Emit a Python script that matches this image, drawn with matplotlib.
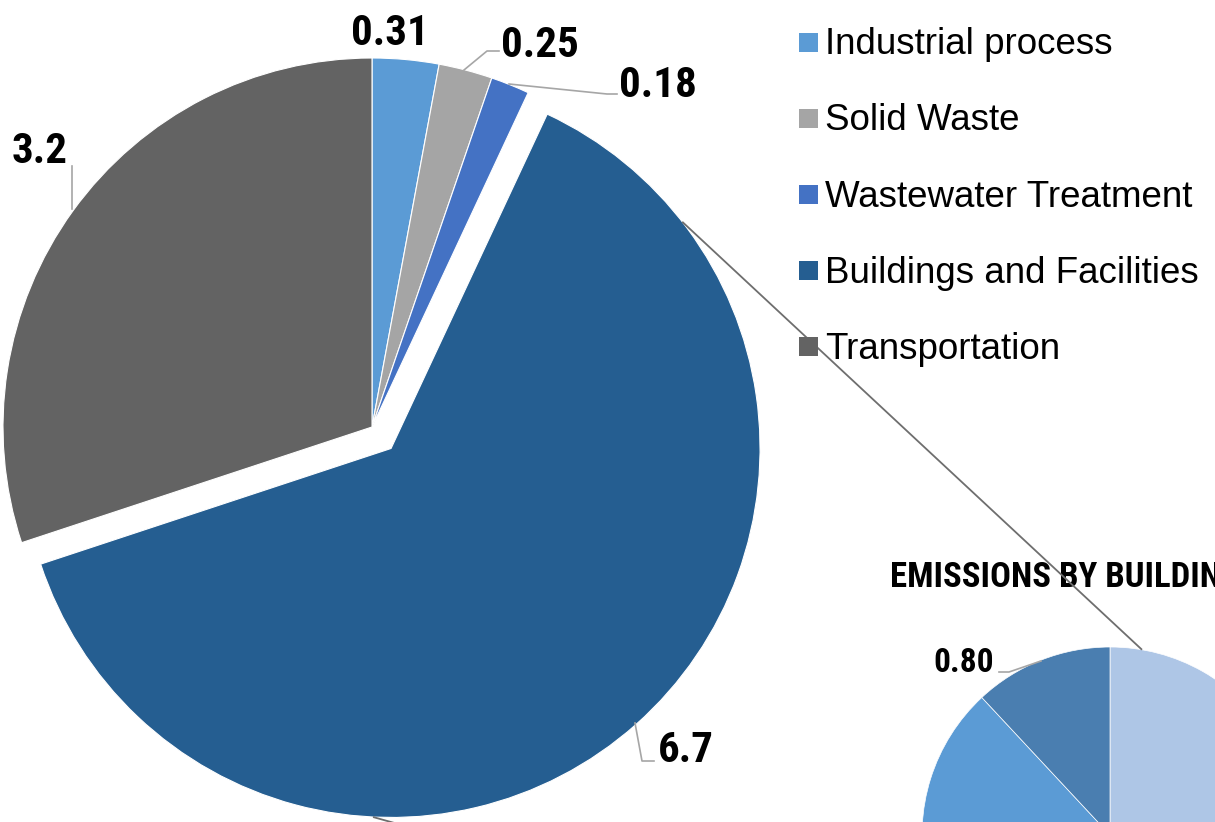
import matplotlib
matplotlib.use('Agg')
import matplotlib.pyplot as plt
import numpy as np
from matplotlib.patches import Rectangle

# ---------------- data ----------------
categories = ['Industrial process', 'Solid Waste', 'Wastewater Treatment',
              'Buildings and Facilities', 'Transportation']
values = [0.31, 0.25, 0.18, 6.7, 3.2]
value_labels = ['0.31', '0.25', '0.18', '6.7', '3.2']
colors = ['#5B9BD5', '#A5A5A5', '#4472C4', '#255E91', '#636363']

# breakdown of Buildings and Facilities (only partly visible in the crop)
bld_values = [2.2, 1.6, 1.0, 1.1, 0.80]
bld_colors = ['#AEC6E6', '#8FAADC', '#2F5F8F', '#5B9BD5', '#4A7EB0']
bld_label = '0.80'
bld_title = 'EMISSIONS BY BUILDING TYPE'

# ---------------- layout ----------------
W, H = 1215, 822
fig = plt.figure(figsize=(W / 100, H / 100), dpi=100)
ax = fig.add_axes([0, 0, 1, 1])

main_c = (372.0, 427.0)
main_r = 369.0
expl = [0, 0, 0, 28.7, 0]

sec_c = (1110.0, 835.0)
sec_r = 188.0

NUM_FONT = ['Roboto Condensed', 'DejaVu Sans']
LEG_FONT = ['Liberation Sans', 'DejaVu Sans']

# y axis inverted -> start at visual top with data angle 270, counterclock=True gives visual clockwise
ax.pie(values, colors=colors, radius=main_r, center=main_c, startangle=270,
       counterclock=True, explode=expl,
       wedgeprops=dict(edgecolor='white', linewidth=0.8))
ax.pie(bld_values, colors=bld_colors, radius=sec_r, center=sec_c, startangle=270,
       counterclock=True, wedgeprops=dict(edgecolor='white', linewidth=0.5))

ax.set_xlim(0, W)
ax.set_ylim(H, 0)
ax.set_aspect('auto')
ax.axis('off')

# exploded centre of Buildings slice
tot = sum(values)
start = sum(values[:3]) / tot * 360
mid = start + values[3] / tot * 360 / 2
ex_c = (main_c[0] + expl[3] * np.sin(np.radians(mid)),
        main_c[1] - expl[3] * np.cos(np.radians(mid)))


def on_circle(c, r, ang):
    a = np.radians(ang)
    return c[0] + r * np.sin(a), c[1] - r * np.cos(a)


# connector lines between the pies
for a1, a2 in [(52.1, 9.8), (182.8, 180.0)]:
    p1 = on_circle(ex_c, main_r, a1)
    p2 = on_circle(sec_c, sec_r, a2)
    ax.plot([p1[0], p2[0]], [p1[1], p2[1]], color='#6E6E6E', lw=1.3,
            solid_capstyle='butt', zorder=5)

# value labels with leader lines
lead_col = '#A6A6A6'
label_pos = [(390, 45, 'center'), (501, 57, 'left'), (619, 97, 'left'),
             (658, 762, 'left'), (68, 163, 'right')]
leaders = [None,
           [(464, 70), (487, 51), (499, 51)],
           [(509, 84), (607, 94), (617, 94)],
           [(635, 723), (642, 761), (654, 761)],
           [(72, 209), (72, 166)]]
for lab, (x, y, ha), ld in zip(value_labels, label_pos, leaders):
    ax.text(x, y, lab, ha=ha, va='baseline', fontsize=31, fontweight='bold',
            fontstretch='condensed', family=NUM_FONT, color='black', zorder=6)
    if ld:
        xs, ys = zip(*ld)
        ax.plot(xs, ys, color=lead_col, lw=1.2, zorder=4)

ax.text(994, 672, bld_label, ha='right', va='baseline', fontsize=24,
        fontweight='bold', fontstretch='condensed', family=NUM_FONT,
        color='black', zorder=6)
ax.plot([1041, 1009, 999], [661, 672, 672], color=lead_col, lw=1.2, zorder=4)

ax.text(890, 587, bld_title, ha='left', va='baseline', fontsize=25,
        fontweight='bold', fontstretch='condensed', family=NUM_FONT,
        color='black', zorder=3)

# legend (manual)
for i, (cat, col) in enumerate(zip(categories, colors)):
    yc = 42.5 + 76 * i
    ax.add_patch(Rectangle((799, yc - 9.25), 18.5, 18.5, facecolor=col,
                           edgecolor='none', zorder=6))
    ax.text(825, yc + 12, cat, ha='left', va='baseline', fontsize=26.5,
            family=LEG_FONT, color='black', zorder=6)

fig.savefig('out.png', dpi=100)
